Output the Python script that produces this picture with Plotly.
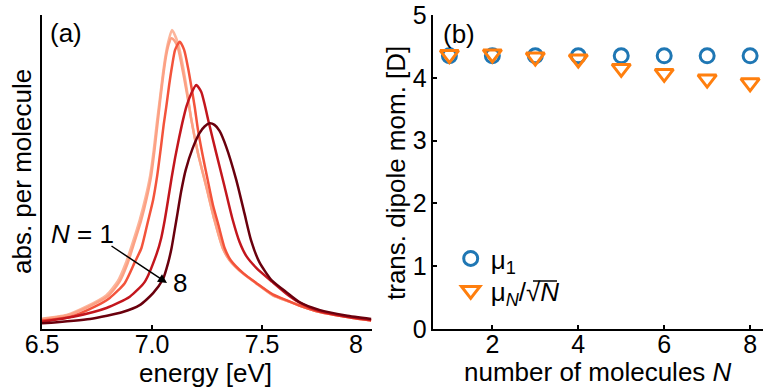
import plotly.graph_objects as go

# ---------------- panel (a): absorption spectra ----------------
# energies in eV, absorption per molecule in arbitrary units
energy_n1 = [6.500, 6.612, 6.703, 6.793, 6.845, 6.881, 6.913, 6.944, 6.971, 6.992, 7.008, 7.021,
             7.035, 7.049, 7.062, 7.076, 7.091, 7.118, 7.141, 7.160, 7.179, 7.209, 7.247, 7.284,
             7.322, 7.352, 7.413, 7.473, 7.548, 7.624, 7.670, 7.760, 7.881, 7.996]
absorb_n1 = [0.033, 0.045, 0.072, 0.108, 0.153, 0.210, 0.277, 0.347, 0.420, 0.490, 0.570, 0.650,
             0.729, 0.809, 0.873, 0.920, 0.952, 0.910, 0.835, 0.755, 0.666, 0.560, 0.453, 0.347,
             0.257, 0.220, 0.177, 0.146, 0.108, 0.087, 0.075, 0.055, 0.039, 0.027]

energy_n2 = [6.500, 6.612, 6.708, 6.800, 6.852, 6.888, 6.919, 6.950, 6.976, 6.996, 7.011, 7.024,
             7.037, 7.051, 7.064, 7.076, 7.088, 7.103, 7.118, 7.132, 7.146, 7.160, 7.179, 7.209,
             7.247, 7.284, 7.322, 7.352, 7.413, 7.473, 7.548, 7.624, 7.670, 7.760, 7.881, 7.996]
absorb_n2 = [0.031, 0.043, 0.070, 0.105, 0.150, 0.207, 0.274, 0.344, 0.417, 0.487, 0.567, 0.647,
             0.727, 0.807, 0.869, 0.907, 0.926, 0.917, 0.895, 0.850, 0.799, 0.745, 0.666, 0.560,
             0.453, 0.347, 0.257, 0.220, 0.177, 0.146, 0.108, 0.087, 0.075, 0.055, 0.039, 0.027]

energy_n3 = [6.500, 6.627, 6.740, 6.808, 6.876, 6.922, 6.952, 6.981, 7.005, 7.024, 7.039, 7.053,
             7.065, 7.078, 7.092, 7.105, 7.126, 7.146, 7.164, 7.180, 7.194, 7.209, 7.230, 7.253,
             7.277, 7.302, 7.330, 7.357, 7.416, 7.475, 7.549, 7.624, 7.670, 7.760, 7.881, 7.996]
absorb_n3 = [0.027, 0.038, 0.071, 0.099, 0.146, 0.213, 0.258, 0.341, 0.411, 0.490, 0.570, 0.650,
             0.708, 0.777, 0.841, 0.889, 0.915, 0.889, 0.831, 0.767, 0.708, 0.634, 0.554, 0.475,
             0.395, 0.331, 0.258, 0.220, 0.177, 0.146, 0.110, 0.088, 0.075, 0.055, 0.039, 0.027]

energy_n5 = [6.500, 6.642, 6.793, 6.899, 6.967, 7.021, 7.042, 7.058, 7.073, 7.089, 7.105, 7.123,
             7.141, 7.157, 7.179, 7.201, 7.224, 7.241, 7.259, 7.292, 7.330, 7.367, 7.398, 7.429,
             7.475, 7.547, 7.624, 7.670, 7.760, 7.881, 7.996]
absorb_n5 = [0.023, 0.039, 0.067, 0.103, 0.150, 0.239, 0.290, 0.347, 0.411, 0.481, 0.545, 0.608,
             0.666, 0.710, 0.751, 0.777, 0.755, 0.710, 0.655, 0.560, 0.453, 0.347, 0.277, 0.232,
             0.194, 0.150, 0.105, 0.084, 0.057, 0.040, 0.029]

energy_n8 = [6.500, 6.718, 6.867, 6.944, 7.005, 7.050, 7.073, 7.089, 7.103, 7.117, 7.132, 7.153,
             7.185, 7.216, 7.239, 7.262, 7.284, 7.307, 7.337, 7.383, 7.420, 7.450, 7.488, 7.543,
             7.615, 7.670, 7.760, 7.881, 7.996]
absorb_n8 = [0.018, 0.032, 0.054, 0.076, 0.114, 0.159, 0.210, 0.258, 0.315, 0.373, 0.436, 0.506,
             0.576, 0.624, 0.645, 0.655, 0.650, 0.631, 0.581, 0.475, 0.369, 0.283, 0.213, 0.156,
             0.115, 0.086, 0.061, 0.043, 0.032]

spectra = [
    (energy_n1, absorb_n1, "#fcb59b"),
    (energy_n2, absorb_n2, "#fca184"),
    (energy_n3, absorb_n3, "#f3533b"),
    (energy_n5, absorb_n5, "#c3161d"),
    (energy_n8, absorb_n8, "#6a000d"),
]

# ---------------- panel (b): transition dipole moments ----------------
n_molecules = [1, 2, 3, 4, 5, 6, 7, 8]
mu_1 = [4.35, 4.35, 4.35, 4.35, 4.35, 4.35, 4.35, 4.35]
mu_n_scaled = [4.37, 4.38, 4.33, 4.30, 4.15, 4.07, 3.98, 3.92]

energy_ticks = [6.5, 7.0, 7.5, 8.0]
energy_ticktext = ["6.5", "7.0", "7.5", ""]
n_ticks = [2, 4, 6, 8]
dipole_ticks = [0, 1, 2, 3, 4, 5]

FONT = "Liberation Sans, Arial, sans-serif"
W, H = 763, 390

fig = go.Figure()

for e, a, c in spectra:
    fig.add_trace(go.Scatter(
        x=e, y=a, mode="lines", line=dict(color=c, width=2.5, shape="spline", smoothing=0.6),
        showlegend=False, xaxis="x", yaxis="y"))

fig.add_trace(go.Scatter(
    x=n_molecules, y=mu_1, mode="markers", name="μ<sub>1</sub>", legend="legend",
    marker=dict(symbol="circle-open", size=14, color="#1f77b4", line=dict(width=3, color="#1f77b4")),
    xaxis="x2", yaxis="y2"))
fig.add_trace(go.Scatter(
    x=n_molecules, y=mu_n_scaled, mode="markers", name="μ<sub><i>N</i></sub>/√<i>N</i>",
    legend="legend2",
    marker=dict(symbol="triangle-down-open", size=16, color="#ff7f0e", line=dict(width=3, color="#ff7f0e")),
    xaxis="x2", yaxis="y2"))

y_dom = [(H - 329) / H, (H - 15) / H]
axis_common = dict(showline=True, linecolor="black", linewidth=1.5, ticklen=4, automargin=False,
                   tickwidth=1.5, tickcolor="black", showgrid=False, zeroline=False,
                   tickfont=dict(family=FONT, size=25, color="black"))
legend_common = dict(xanchor="left", yanchor="top", font=dict(family=FONT, size=26, color="black"),
                     bgcolor="rgba(0,0,0,0)", itemsizing="trace", borderwidth=0)

fig.update_layout(
    template="none",
    width=W, height=H, margin=dict(l=0, r=0, t=0, b=0, pad=0), autosize=False,
    paper_bgcolor="white", plot_bgcolor="white",
    font=dict(family=FONT, size=25, color="black"),
    xaxis=dict(domain=[42 / W, 372 / W], range=[6.5, 8.0], tickvals=energy_ticks,
               ticktext=energy_ticktext, anchor="y", ticks="inside", ticklabelstandoff=-8,
               **axis_common),
    yaxis=dict(domain=y_dom, range=[0, 1], showticklabels=False, anchor="x", ticks="",
               **axis_common),
    xaxis2=dict(domain=[433.3 / W, 1.0], range=[0.625, 8.3], tickvals=n_ticks, anchor="y2",
                ticks="inside", ticklabelstandoff=-8, **axis_common),
    yaxis2=dict(domain=y_dom, range=[0, 5], tickvals=dipole_ticks, anchor="x2", ticks="inside",
                **axis_common),
    legend=dict(x=450.7 / W, y=1 - 235 / H, **legend_common),
    legend2=dict(x=450.7 / W, y=1 - 267 / H, **legend_common),
)

def label(text, px, py, size=26, **kw):
    fig.add_annotation(text=text, x=px / W, y=1 - py / H, xref="paper", yref="paper",
                       xanchor="center", yanchor="middle", showarrow=False,
                       font=dict(family=FONT, size=size, color="black"), **kw)

label("energy [eV]", 206, 373)
label("number of molecules <i>N</i>", 598, 372)
label("abs. per molecule", 22, 172, textangle=-90)
label("trans. dipole mom. [D]", 396, 173, textangle=-90)
label("(a)", 66, 33)
label("(b)", 459, 34)
label("<i>N</i> = 1", 82, 234)
label("8", 180, 283)
label("8", 356, 344, size=25)

# arrow from N = 1 towards N = 8
fig.add_annotation(x=167 / W, y=1 - 283 / H, ax=110 - 167, ay=245 - 283,
                   xref="paper", yref="paper", axref="pixel", ayref="pixel",
                   showarrow=True, arrowhead=2, arrowsize=1.2, arrowwidth=1.5, arrowcolor="black",
                   text="")

# vinculum of the square root in the legend entry
fig.add_shape(type="line", xref="paper", yref="paper", x0=533 / W, x1=557 / W,
              y0=1 - 281 / H, y1=1 - 281 / H, line=dict(color="black", width=1.5))

fig.write_html("out.html")
